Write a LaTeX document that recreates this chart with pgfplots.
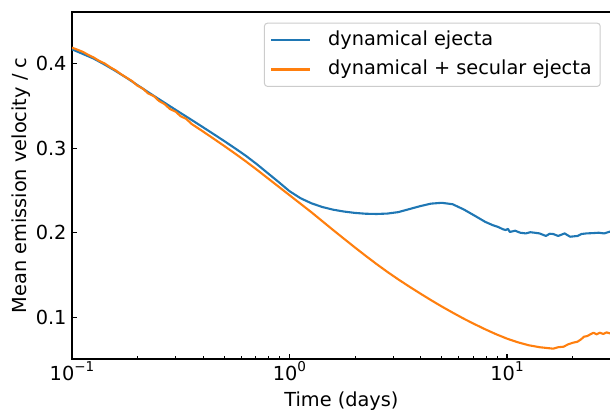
\documentclass[border=0pt]{standalone}
\usepackage{fontspec}
\setmainfont{DejaVu Sans}
\usepackage{pgfplots}
\usepackage{pgfplotstable}
\pgfplotsset{compat=1.18}

\definecolor{tabblue}{HTML}{1F77B4}
\definecolor{taborange}{HTML}{FF7F0E}

% power-of-ten tick labels in the text font
\newcommand{\tenpow}[1]{10\raisebox{0.42em}{\fontsize{13.6}{14}\selectfont #1}}

% mean emission velocity (units of c) versus time (days)
\pgfplotstableread{
t v
0.1000 0.4165
0.1122 0.4110
0.1259 0.4055
0.1413 0.3985
0.1585 0.3910
0.1778 0.3830
0.1995 0.3745
0.2239 0.3660
0.2512 0.3577
0.2818 0.3495
0.3162 0.3413
0.3548 0.3332
0.3981 0.3250
0.4467 0.3167
0.5012 0.3083
0.5623 0.2997
0.6310 0.2908
0.7079 0.2810
0.7943 0.2705
0.8913 0.2600
1.0000 0.2492
1.1220 0.2410
1.2589 0.2350
1.4125 0.2306
1.5849 0.2274
1.7783 0.2252
1.9953 0.2236
2.2387 0.2226
2.5119 0.2223
2.8184 0.2228
3.1623 0.2245
3.5481 0.2280
3.9811 0.2315
4.4668 0.2345
5.0119 0.2355
5.6234 0.2338
6.3096 0.2278
7.0795 0.2205
7.9433 0.2130
8.6200 0.2090
9.1000 0.2070
9.6000 0.2042
9.8800 0.2034
10.100 0.2048
10.300 0.2011
10.900 0.2026
11.500 0.2002
12.200 0.1994
12.800 0.2008
13.400 0.2002
14.100 0.1994
15.100 0.1964
15.700 0.1990
16.300 0.1987
17.200 0.1964
18.400 0.1994
19.500 0.1955
21.100 0.1964
22.000 0.1987
23.200 0.1994
25.000 0.1998
26.400 0.2002
28.000 0.1994
29.600 0.2014
30.000 0.2010
}\dynej

\pgfplotstableread{
t v
0.1000 0.4185
0.1060 0.4160
0.1122 0.4135
0.1190 0.4098
0.1259 0.4068
0.1330 0.4030
0.1413 0.3998
0.1500 0.3953
0.1585 0.3918
0.1680 0.3872
0.1778 0.3832
0.1890 0.3790
0.1995 0.3738
0.2120 0.3700
0.2239 0.3645
0.2380 0.3612
0.2512 0.3556
0.2660 0.3520
0.2818 0.3462
0.3000 0.3428
0.3162 0.3375
0.3350 0.3345
0.3548 0.3285
0.3981 0.3200
0.4467 0.3113
0.5012 0.3025
0.5623 0.2935
0.6310 0.2842
0.7079 0.2745
0.7943 0.2645
0.8913 0.2545
1.0000 0.2445
1.1220 0.2345
1.2589 0.2245
1.4125 0.2140
1.5849 0.2035
1.7783 0.1932
1.9953 0.1830
2.2387 0.1730
2.5119 0.1633
2.8184 0.1540
3.1623 0.1452
3.5481 0.1368
3.9811 0.1287
4.4668 0.1208
5.0119 0.1132
5.6234 0.1060
6.3096 0.0990
7.0795 0.0925
7.9433 0.0863
8.9125 0.0805
10.000 0.0753
11.220 0.0710
12.589 0.0675
14.125 0.0652
15.200 0.0643
16.300 0.0635
17.200 0.0652
18.200 0.0658
19.100 0.0686
20.100 0.0705
21.100 0.0717
21.900 0.0745
22.600 0.0776
23.400 0.0784
24.200 0.0805
25.000 0.0823
25.800 0.0804
26.700 0.0823
27.700 0.0808
28.700 0.0827
29.600 0.0816
30.000 0.0820
}\dynsec

\begin{document}
\fontsize{19.4}{23}\selectfont
\begin{tikzpicture}
\useasboundingbox (-72bp,-51bp) rectangle (538bp,359bp);
\begin{semilogxaxis}[
  scale only axis,
  width=538.8bp, height=347bp,
  xmin=0.1, xmax=30, ymin=0.0513, ymax=0.4605,
  axis line style={line width=1.1bp},
  tick align=inside,
  xtick pos=left, ytick pos=left,
  major tick length=4.9bp, minor tick length=2.8bp,
  every tick/.style={black, line width=1.1bp},
  minor tick style={black, line width=0.83bp},
  xtick={0.1,1,10},
  xticklabels={\tenpow{−1},\tenpow{0},\tenpow{1}},
  minor xtick={0.2,0.3,0.4,0.5,0.6,0.7,0.8,0.9,2,3,4,5,6,7,8,9,20},
  ytick={0.1,0.2,0.3,0.4},
  yticklabels={0.1,0.2,0.3,0.4},
  xticklabel style={anchor=base, inner sep=0pt, yshift=-21bp},
  yticklabel style={anchor=east, inner sep=0pt, xshift=-5.3bp},
  xlabel={Time (days)},
  xlabel style={at={(axis description cs:0.5,0)}, anchor=base, yshift=-47bp},
  ylabel={Mean emission velocity / c},
  ylabel style={at={(axis description cs:-0.08445,0.5)}, anchor=base},
  legend style={at={(0.9813,0.9692)}, anchor=north east,
    draw=black!20, line width=1bp, rounded corners=3bp,
    fill=white, fill opacity=0.8, text opacity=1,
    inner xsep=5.5bp, inner ysep=7.2bp, row sep=10.2bp,
    nodes={inner sep=0pt, text height=14.7bp, text depth=4.6bp}},
  legend cell align=left,
  legend image code/.code={%
    \draw[#1, line width=2.1bp] (0bp,0bp) -- (39bp,0bp);
    \path (56bp,0bp);},
]
\addplot[tabblue, line width=2.1bp, line join=round] table[x=t, y=v] {\dynej};
\addlegendentry{dynamical ejecta}
\addplot[taborange, line width=2.1bp, line join=round] table[x=t, y=v] {\dynsec};
\addlegendentry{dynamical + secular ejecta\hspace*{3bp}}
\end{semilogxaxis}
\end{tikzpicture}
\end{document}
